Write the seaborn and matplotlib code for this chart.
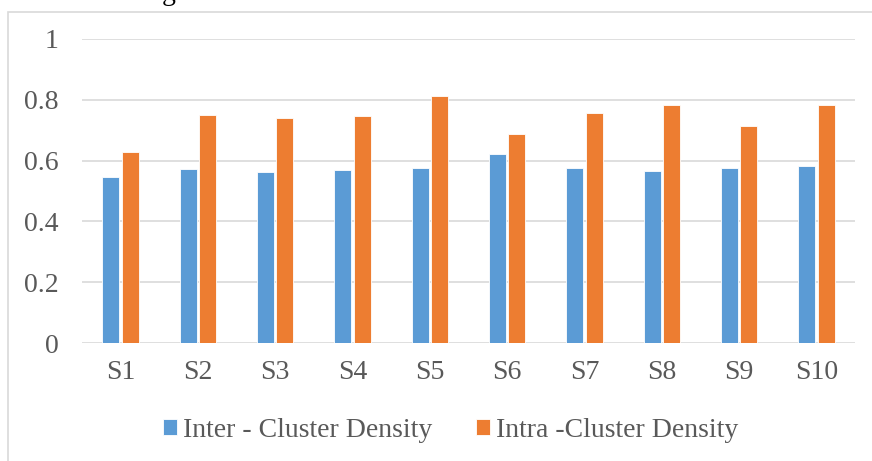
import matplotlib
matplotlib.use("Agg")
import matplotlib.pyplot as plt
from matplotlib.patches import Rectangle
import seaborn as sns
import pandas as pd

# values
subjects = ["S1", "S2", "S3", "S4", "S5", "S6", "S7", "S8", "S9", "S10"]
inter_density = [0.545, 0.571, 0.563, 0.568, 0.577, 0.622, 0.575, 0.566, 0.577, 0.581]
intra_density = [0.628, 0.750, 0.740, 0.748, 0.812, 0.687, 0.757, 0.783, 0.714, 0.782]
series_names = ["Inter - Cluster Density", "Intra -Cluster Density"]
y_ticks = [0, 0.2, 0.4, 0.6, 0.8, 1]
y_tick_labels = ["0", "0.2", "0.4", "0.6", "0.8", "1"]

df = pd.DataFrame({
    "subject": subjects * 2,
    "value": inter_density + intra_density,
    "series": [series_names[0]] * len(subjects) + [series_names[1]] * len(subjects),
})

sns.set_style("white")
plt.rcParams["font.family"] = ["Liberation Serif", "DejaVu Serif"]
text_col = "#595959"
grid_col = "#D9D9D9"

fig = plt.figure(figsize=(8.72, 4.61), dpi=100)
ax = fig.add_axes([82 / 872, 1 - 343 / 461, (855 - 82) / 872, (343 - 39) / 461])

sns.barplot(
    data=df, x="subject", y="value", hue="series",
    palette=["#5B9BD5", "#ED7D31"], width=0.5, gap=0.12,
    linewidth=0.6, edgecolor="#FFFFFF", saturation=1, ax=ax, zorder=3,
)

ax.set_ylim(0, 1)
ax.set_yticks(y_ticks)
ax.set_yticklabels(y_tick_labels)
ax.set_xlabel("")
ax.set_ylabel("")
for s in ax.spines.values():
    s.set_visible(False)
ax.yaxis.grid(True, color=grid_col, linewidth=1.2)
ax.set_axisbelow(True)
ax.tick_params(axis="y", length=0, pad=17, labelsize=20, labelcolor=text_col)
ax.tick_params(axis="x", length=0, pad=12, labelsize=20, labelcolor=text_col)

handles, labels = ax.get_legend_handles_labels()
ax.get_legend().remove()
fig.legend(
    handles, labels, loc="center", bbox_to_anchor=(0.5166, 1 - 430 / 461),
    ncol=2, frameon=False, fontsize=20, labelcolor=text_col,
    handlelength=0.5, handleheight=0.5, handletextpad=0.2, columnspacing=1.6,
)

# chart-area border and the clipped title glyph at the top
fig.patches.append(Rectangle((8 / 872, -0.1), 1.2, 1 - 12 / 461 + 0.1,
                             transform=fig.transFigure, fill=False,
                             edgecolor=grid_col, linewidth=1.2))
fig.text(162 / 872, 1.0, "g", fontsize=20, color="black", va="baseline", ha="left")

fig.savefig("out.png", dpi=100)
